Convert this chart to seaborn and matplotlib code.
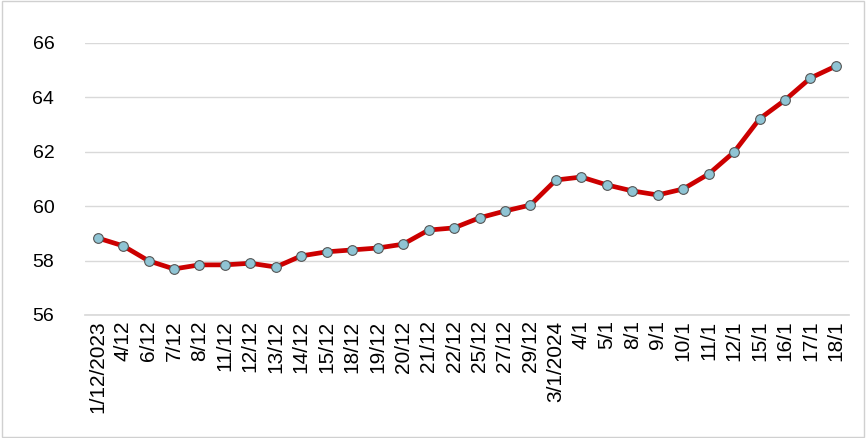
import matplotlib.pyplot as plt
import seaborn as sns
import pandas as pd

dates = ["1/12/2023", "4/12", "6/12", "7/12", "8/12", "11/12", "12/12", "13/12",
         "14/12", "15/12", "18/12", "19/12", "20/12", "21/12", "22/12", "25/12",
         "27/12", "29/12", "3/1/2024", "4/1", "5/1", "8/1", "9/1", "10/1",
         "11/1", "12/1", "15/1", "16/1", "17/1", "18/1"]
values = [58.83, 58.54, 57.99, 57.69, 57.84, 57.84, 57.9, 57.76,
          58.17, 58.32, 58.39, 58.46, 58.6, 59.12, 59.2, 59.57,
          59.82, 60.04, 60.96, 61.07, 60.78, 60.56, 60.41, 60.63,
          61.18, 61.99, 63.21, 63.9, 64.71, 65.15]

df = pd.DataFrame({"pos": range(len(dates)), "value": values})

sns.set_theme(style="white")
plt.rcParams["font.family"] = ["Liberation Sans", "DejaVu Sans"]

fig, ax = plt.subplots(figsize=(8.66, 4.38), dpi=100)
fig.subplots_adjust(left=0.098, right=0.98, top=0.902, bottom=0.281)
ax.yaxis.grid(True, color="#d9d9d9", linewidth=1)
ax.set_axisbelow(True)

sns.lineplot(data=df, x="pos", y="value", ax=ax, color="#cc0000", linewidth=3.4,
             marker="o", markersize=7, markerfacecolor="#8fc4d4",
             markeredgecolor="#555555", markeredgewidth=0.8)

ax.set_ylim(56, 66)
ax.set_yticks(range(56, 67, 2))
ax.set_xlim(-0.5, len(dates) - 0.5)
ax.set_xticks(range(len(dates)))
ax.set_xticklabels(dates, rotation=90, fontsize=15, color="black")
ax.tick_params(axis="y", labelsize=14, length=0, pad=22, labelcolor="black")
ax.tick_params(axis="x", length=0, pad=4)
ax.set_xlabel("")
ax.set_ylabel("")
for s in ["top", "right", "left"]:
    ax.spines[s].set_visible(False)
ax.spines["bottom"].set_color("#d9d9d9")

fig.patches.append(plt.Rectangle((0.002, 0.002), 0.996, 0.996, transform=fig.transFigure,
                                 fill=False, edgecolor="#d0d0d0", linewidth=1))
fig.savefig("out.png", dpi=100)
